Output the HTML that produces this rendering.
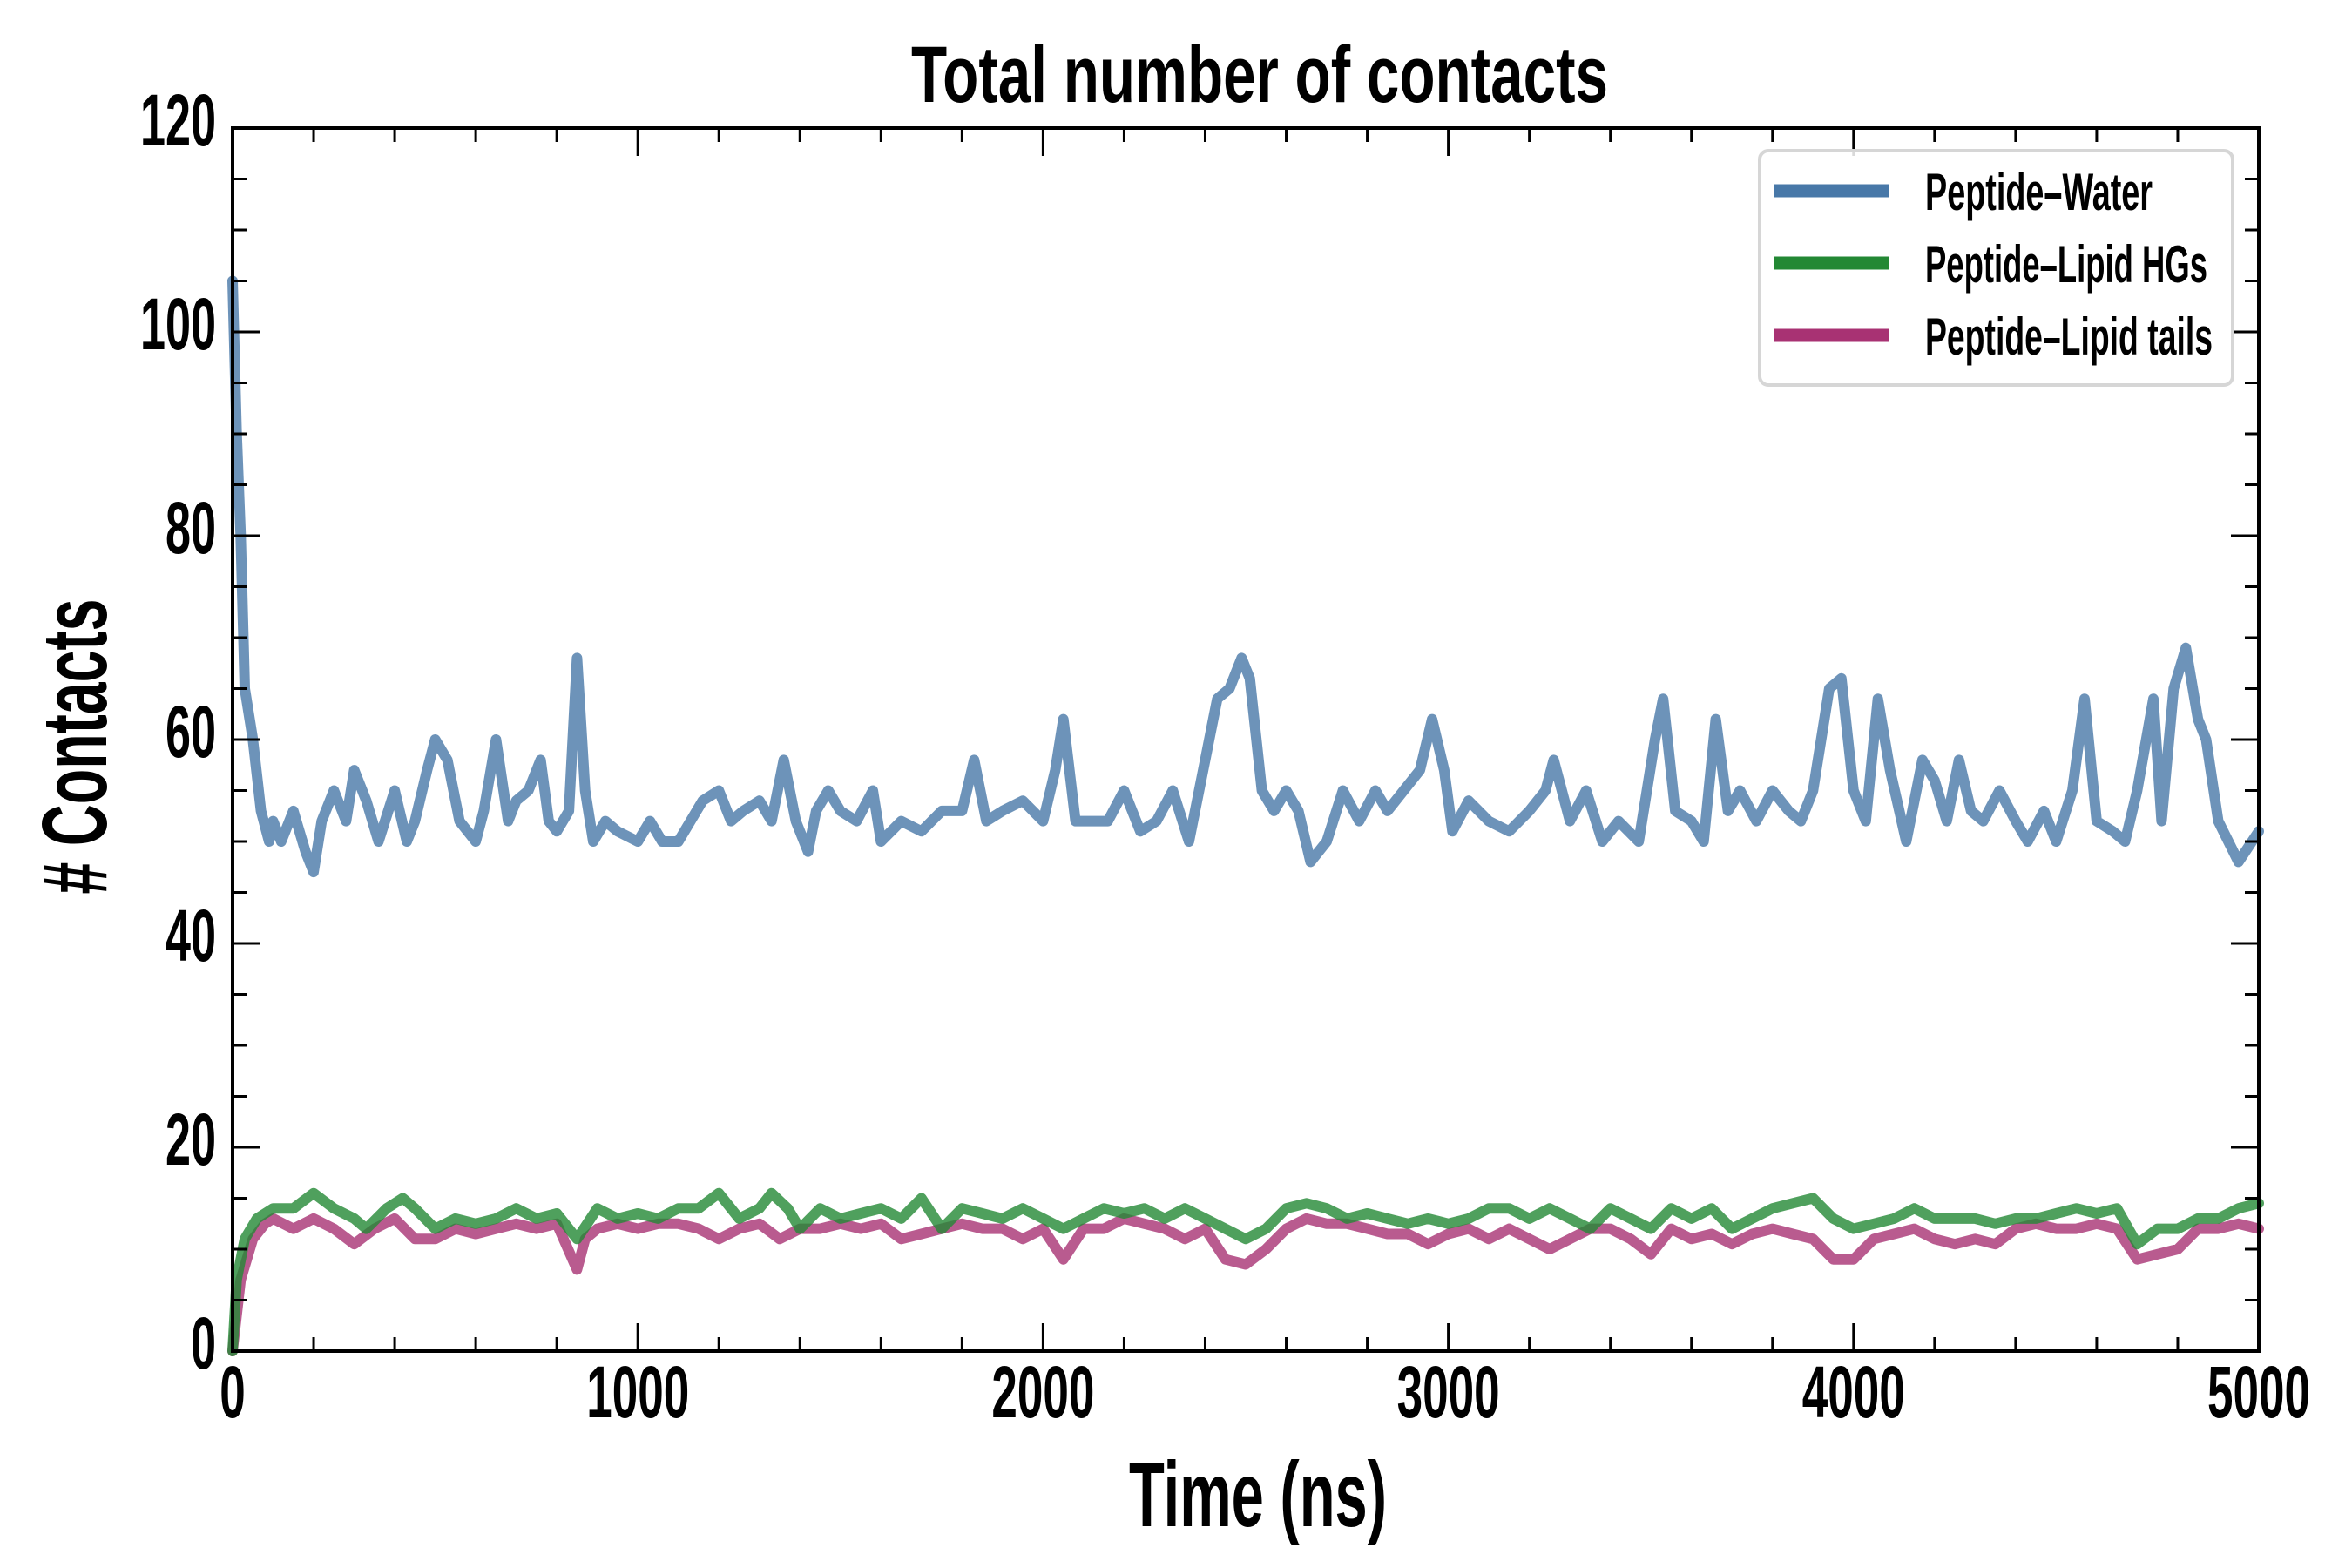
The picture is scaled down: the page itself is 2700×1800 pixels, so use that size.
<!DOCTYPE html>
<html><head><meta charset="utf-8"><style>
html,body{margin:0;padding:0;background:#fff;}
svg{display:block;}
text{font-family:"Liberation Sans Narrow","Liberation Sans",sans-serif;font-weight:bold;fill:#000;}
</style></head><body>
<svg id="chart" width="2700" height="1800" viewBox="0 0 2700 1800" xmlns="http://www.w3.org/2000/svg">
<rect width="2700" height="1800" fill="#fff"/>
<text x="1446" y="117" text-anchor="middle" font-size="92" textLength="800" lengthAdjust="spacingAndGlyphs">Total number of contacts</text>
<text x="1444" y="1752" text-anchor="middle" font-size="106" textLength="296" lengthAdjust="spacingAndGlyphs">Time (ns)</text>
<text transform="translate(122,857) rotate(-90)" text-anchor="middle" font-size="106" textLength="339" lengthAdjust="spacingAndGlyphs"># Contacts</text>
<g id="series"></g>
<g id="axes"></g>
<g id="legend">
<rect x="2020" y="173" width="543" height="269" rx="10" fill="#fff" fill-opacity="0.85" stroke="#d6d6d6" stroke-width="4"/>
<line x1="2036" x2="2169" y1="219" y2="219" stroke="#4878a8" stroke-width="15"/>
<text x="2210" y="241" font-size="60" textLength="261" lengthAdjust="spacingAndGlyphs">Peptide–Water</text>
<line x1="2036" x2="2169" y1="302" y2="302" stroke="#238834" stroke-width="15"/>
<text x="2210" y="324" font-size="60" textLength="324" lengthAdjust="spacingAndGlyphs">Peptide–Lipid HGs</text>
<line x1="2036" x2="2169" y1="385" y2="385" stroke="#a83273" stroke-width="15"/>
<text x="2210" y="407" font-size="60" textLength="330" lengthAdjust="spacingAndGlyphs">Peptide–Lipid tails</text>
</g>
</svg>
<script>
const waterT=[0,10,20,30,50,70,90,100,120,150,180,200,220,250,280,300,330,360,400,430,450,480,500,530,560,600,620,650,680,700,730,760,780,800,830,850,870,890,920,950,1000,1030,1060,1100,1130,1160,1200,1230,1260,1300,1330,1360,1390,1420,1440,1470,1500,1540,1580,1600,1650,1700,1750,1800,1830,1860,1900,1950,2000,2030,2050,2080,2120,2160,2200,2240,2280,2320,2360,2400,2430,2460,2490,2510,2540,2570,2600,2630,2660,2700,2740,2780,2820,2850,2890,2930,2960,2990,3010,3050,3100,3150,3200,3240,3260,3300,3340,3380,3420,3470,3510,3530,3560,3600,3630,3660,3690,3720,3760,3800,3840,3870,3900,3940,3970,4000,4030,4060,4090,4130,4170,4200,4230,4260,4290,4320,4360,4400,4430,4470,4500,4540,4570,4600,4640,4670,4700,4740,4760,4790,4820,4850,4870,4900,4950,5000];
const waterV=[105,90,80,65,60,53,50,52,50,53,49,47,52,55,52,57,54,50,55,50,52,57,60,58,52,50,53,60,52,54,55,58,52,51,53,68,55,50,52,51,50,52,50,50,52,54,55,52,53,54,52,58,52,49,53,55,53,52,55,50,52,51,53,53,58,52,53,54,52,57,62,52,52,52,55,51,52,55,50,58,64,65,68,66,55,53,55,53,48,50,55,52,55,53,55,57,62,57,51,54,52,51,53,55,58,52,55,50,52,50,60,64,53,52,50,62,53,55,52,55,53,52,55,65,66,55,52,64,57,50,58,56,52,58,53,52,55,52,50,53,50,55,64,52,51,50,55,64,52,65,69,62,60,52,48,51];
const hgT=[0,10,30,60,100,150,200,250,300,330,380,420,450,500,550,600,650,700,750,800,850,900,950,1000,1050,1100,1150,1200,1250,1300,1330,1370,1400,1450,1500,1550,1600,1650,1700,1750,1800,1850,1900,1950,2000,2050,2100,2150,2200,2250,2300,2350,2400,2450,2500,2550,2600,2650,2700,2750,2800,2850,2900,2950,3000,3050,3100,3150,3200,3250,3300,3350,3400,3450,3500,3550,3600,3650,3700,3750,3800,3850,3900,3950,4000,4050,4100,4150,4200,4250,4300,4350,4400,4450,4500,4550,4600,4650,4700,4750,4800,4850,4900,4950,5000];
const hgV=[0,7,11,13,14,14,15.5,14,13,12,14,15,14,12,13,12.5,13,14,13,13.5,11,14,13,13.5,13,14,14,15.5,13,14,15.5,14,12,14,13,13.5,14,13,15,12,14,13.5,13,14,13,12,13,14,13.5,14,13,14,13,12,11,12,14,14.5,14,13,13.5,13,12.5,13,12.5,13,14,14,13,14,13,12,14,13,12,14,13,14,12,13,14,14.5,15,13,12,12.5,13,14,13,13,13,12.5,13,13,13.5,14,13.5,14,10.5,12,12,13,13,14,14.5];
const tailT=[0,20,50,80,100,150,200,250,300,350,400,450,500,550,600,650,700,750,800,850,870,900,950,1000,1050,1100,1150,1200,1250,1300,1350,1400,1450,1500,1550,1600,1650,1700,1750,1800,1850,1900,1950,2000,2050,2100,2150,2200,2250,2300,2350,2400,2450,2500,2550,2600,2650,2700,2750,2800,2850,2900,2950,3000,3050,3100,3150,3200,3250,3300,3350,3400,3450,3500,3550,3600,3650,3700,3750,3800,3850,3900,3950,4000,4050,4100,4150,4200,4250,4300,4350,4400,4450,4500,4550,4600,4650,4700,4750,4800,4850,4900,4950,5000];
const tailV=[0,7,11,12.5,13,12,13,12,10.5,12,13,11,11,12,11.5,12,12.5,12,12.5,8,11,12,12.5,12,12.5,12.5,12,11,12,12.5,11,12,12,12.5,12,12.5,11,11.5,12,12.5,12,12,11,12,9,12,12,13,12.5,12,11,12,9,8.5,10,12,13,12.5,12.5,12,11.5,11.5,10.5,11.5,12,11,12,11,10,11,12,12,11,9.5,12,11,11.5,10.5,11.5,12,11.5,11,9,9,11,11.5,12,11,10.5,11,10.5,12,12.5,12,12,12.5,12,9,9.5,10,12,12,12.5,12];
const xTicks=[0,1000,2000,3000,4000,5000];
const yTicks=[0,20,40,60,80,100,120];

const NS='http://www.w3.org/2000/svg';
const L=267,R=2593,T=147,B=1551;
const xs=t=>L+(t/5000)*(R-L);
const ys=v=>B-(v/120)*(B-T);
function mk(tag,attrs,parent){const e=document.createElementNS(NS,tag);for(const k in attrs)e.setAttribute(k,attrs[k]);parent.appendChild(e);return e;}
const sg=document.getElementById('series');
function series(tv,vv,color,name){
  const d=tv.map((t,i)=>(i?'L':'M')+xs(t).toFixed(1)+' '+ys(vv[i]).toFixed(1)).join(' ');
  const p=mk('path',{d:d,fill:'none',stroke:color,'stroke-width':12,'stroke-linejoin':'round','stroke-linecap':'round','stroke-opacity':0.8},sg);
  
  
}
series(waterT,waterV,'#4878a8','line-peptide-water');
series(tailT,tailV,'#a83273','line-peptide-lipid-tails');
series(hgT,hgV,'#238834','line-peptide-lipid-hgs');

const ag=document.getElementById('axes');
const frame=mk('rect',{x:L,y:T,width:R-L,height:B-T,fill:'none',stroke:'#000','stroke-width':4},ag);


for(let t=0;t<=5000;t+=200){
  const major=t%1000===0, len=major?32:16;
  const a=mk('line',{x1:xs(t),x2:xs(t),y1:B,y2:B-len,stroke:'#000','stroke-width':3},ag);
  
  
  const b=mk('line',{x1:xs(t),x2:xs(t),y1:T,y2:T+len,stroke:'#000','stroke-width':3},ag);
  
  
}
for(let v=0;v<=120;v+=5){
  const major=v%20===0, len=major?32:16;
  const a=mk('line',{x1:L,x2:L+len,y1:ys(v),y2:ys(v),stroke:'#000','stroke-width':3},ag);
  
  
  const b=mk('line',{x1:R,x2:R-len,y1:ys(v),y2:ys(v),stroke:'#000','stroke-width':3},ag);
  
  
}
xTicks.forEach(t=>{
  const s=String(t);
  const e=mk('text',{x:xs(t),y:1627,'text-anchor':'middle','font-size':84,textLength:s.length*29.5,lengthAdjust:'spacingAndGlyphs'},ag);
  e.textContent=s;
  
  
});
yTicks.forEach(v=>{
  const s=String(v);
  const e=mk('text',{x:248,y:ys(v)+20,'text-anchor':'end','font-size':84,textLength:s.length*29,lengthAdjust:'spacingAndGlyphs'},ag);
  e.textContent=s;
  
  
});
</script>
</body></html>
